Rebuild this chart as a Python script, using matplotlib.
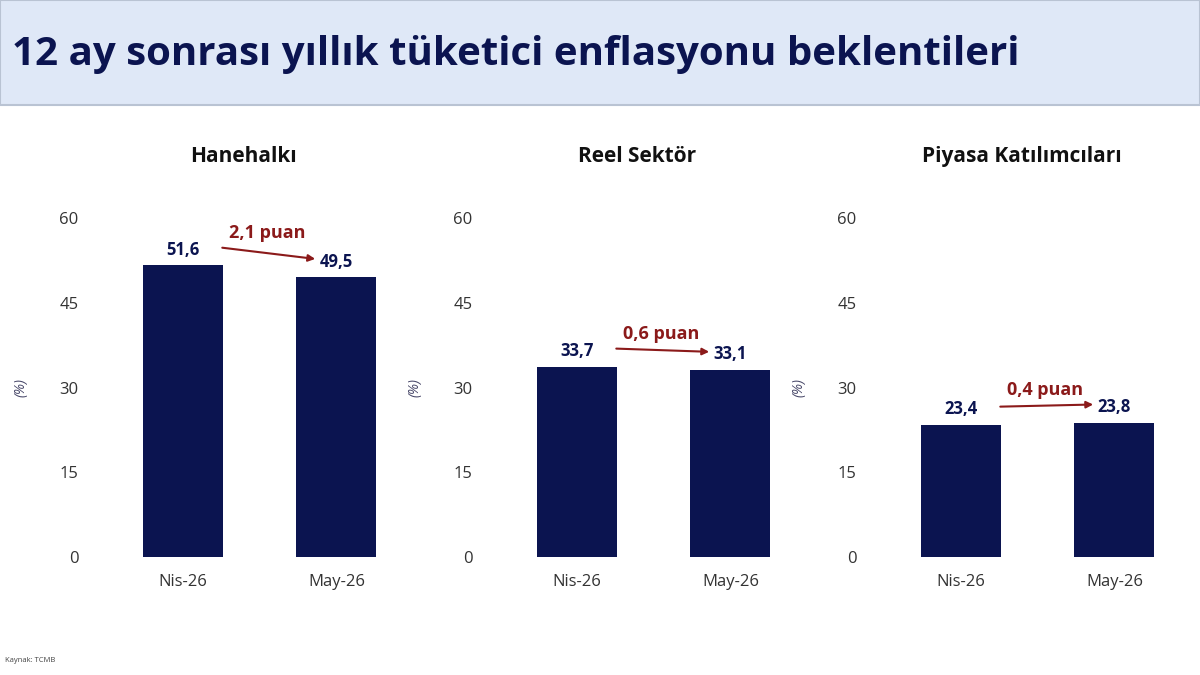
import matplotlib.pyplot as plt
from matplotlib.patches import Rectangle

panels = ['Hanehalkı', 'Reel Sektör', 'Piyasa Katılımcıları']
months = ['Nis-26', 'May-26']
values = [[51.6, 49.5], [33.7, 33.1], [23.4, 23.8]]
diffs = ['2,1 puan', '0,6 puan', '0,4 puan']
yticks = [0, 15, 30, 45, 60]

navy = '#0b1450'
red = '#8b1a1a'
plt.rcParams['font.family'] = ['Open Sans', 'DejaVu Sans']

fig = plt.figure(figsize=(12, 6.75), dpi=100)
fig.patches.append(Rectangle((0, 1 - 105 / 675), 1, 105 / 675, transform=fig.transFigure,
                             facecolor='#dfe8f7', edgecolor='#b9c3d3', lw=1.5, zorder=0))
fig.text(0.01, 1 - 55 / 675, '12 ay sonrası yıllık tüketici enflasyonu beklentileri',
         fontsize=29, fontweight='bold', color=navy, va='center')
fig.text(0.004, 1 - 661 / 675, 'Kaynak: TCMB', fontsize=5.5, color='#444444', va='center')

lefts = [98, 492, 876]
for i, name in enumerate(panels):
    ax = fig.add_axes([lefts[i] / 1200, 1 - 557 / 675, 323 / 1200, 339 / 675])
    vals = values[i]
    ax.bar([0, 1], vals, width=0.52, color=navy)
    ax.set_xlim(-0.55, 1.55)
    ax.set_ylim(0, 60)
    ax.set_yticks(yticks)
    ax.set_xticks([0, 1])
    ax.set_xticklabels(months)
    for s in ax.spines.values():
        s.set_visible(False)
    ax.tick_params(length=0, labelsize=12, colors='#333333', pad=12)
    ax.tick_params(axis='y', pad=14)
    ax.set_ylabel('(%)', fontsize=10, style='italic', color='#444466', labelpad=22)
    ax.set_title(name, fontsize=15, fontweight='bold', color='#111111', pad=40, x=0.45)
    for x, v in enumerate(vals):
        ax.text(x, v + 1.2, f'{v:.1f}'.replace('.', ','), ha='center', va='bottom',
                fontsize=12, fontweight='bold', color=navy)
    y0, y1 = vals[0] + 3.2, vals[1] + 3.2
    ax.annotate('', xy=(0.88, y1), xytext=(0.24, y0),
                arrowprops=dict(arrowstyle='-|>', color=red, lw=1.5, mutation_scale=10))
    ax.text(0.55, max(y0, y1) + 1.0, diffs[i], ha='center', va='bottom',
            fontsize=13, fontweight='bold', color=red)
    ax.patch.set_alpha(0)

fig.savefig('out.png', dpi=100, facecolor='white')
